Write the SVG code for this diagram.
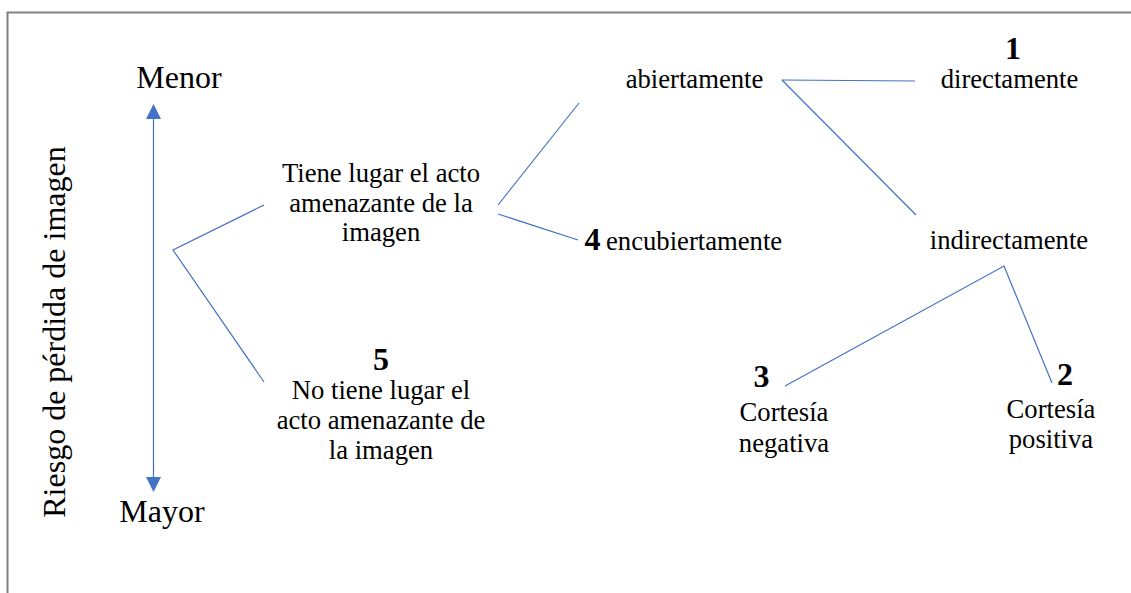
<svg xmlns="http://www.w3.org/2000/svg" width="1131" height="593" viewBox="0 0 1131 593" font-family="'Liberation Serif', serif">
<style>
  text { font-family: 'Liberation Serif', 'Times New Roman', serif; fill: #000; text-anchor: middle; }
  .t { font-size: 26.67px; }
  .big { font-size: 32px; }
  .num { font-size: 32px; font-weight: bold; }
  .c { stroke: #4472C4; stroke-width: 1.2; fill: none; }
</style>
<defs>
  <marker id="ah" markerUnits="userSpaceOnUse" markerWidth="16" markerHeight="16" refX="0" refY="7.5" orient="auto-start-reverse">
    <path d="M0,0 L15,7.5 L0,15 z" fill="#4472C4"/>
  </marker>
</defs>
<rect x="0" y="0" width="1131" height="593" fill="#fff"/>
<rect x="7.5" y="12.5" width="1140" height="600" fill="none" stroke="#808080" stroke-width="2"/>

<g id="connectors">
  <line class="c" x1="153.5" y1="119" x2="153.5" y2="477" marker-start="url(#ah)" marker-end="url(#ah)"/>
  <polyline class="c" points="264,205 173,250 264,382"/>
  <line class="c" x1="498" y1="205" x2="579" y2="103"/>
  <line class="c" x1="498" y1="214" x2="578" y2="240"/>
  <line class="c" x1="782" y1="80" x2="915" y2="81"/>
  <line class="c" x1="782" y1="80" x2="916" y2="215"/>
  <polyline class="c" points="785,386 1004,266 1052,383"/>
</g>

<g id="axis-label">
  <text class="big" transform="translate(65,332) rotate(-90)">Riesgo de pérdida de imagen</text>
</g>
<g id="menor"><text class="big" x="179" y="88">Menor</text></g>
<g id="mayor"><text class="big" x="162" y="522">Mayor</text></g>

<g id="tiene-lugar">
  <text class="t" x="381" y="182">Tiene lugar el acto</text>
  <text class="t" x="381" y="212">amenazante de la</text>
  <text class="t" x="381" y="241">imagen</text>
</g>
<g id="no-tiene-lugar">
  <text class="num" x="381" y="370">5</text>
  <text class="t" x="381" y="399">No tiene lugar el</text>
  <text class="t" x="381" y="429">acto amenazante de</text>
  <text class="t" x="381" y="459">la imagen</text>
</g>
<g id="abiertamente"><text class="t" x="694.5" y="88">abiertamente</text></g>
<g id="encubiertamente">
  <text class="num" x="592.5" y="250">4</text>
  <text class="t" x="606" y="250" style="text-anchor:start">encubiertamente</text>
</g>
<g id="directamente">
  <text class="num" x="1013" y="59">1</text>
  <text class="t" x="1009.5" y="88">directamente</text>
</g>
<g id="indirectamente"><text class="t" x="1009" y="249">indirectamente</text></g>
<g id="cortesia-negativa">
  <text class="num" x="761.5" y="387">3</text>
  <text class="t" x="784" y="421">Cortesía</text>
  <text class="t" x="784" y="452">negativa</text>
</g>
<g id="cortesia-positiva">
  <text class="num" x="1065" y="385">2</text>
  <text class="t" x="1051" y="418">Cortesía</text>
  <text class="t" x="1051" y="448">positiva</text>
</g>
</svg>
